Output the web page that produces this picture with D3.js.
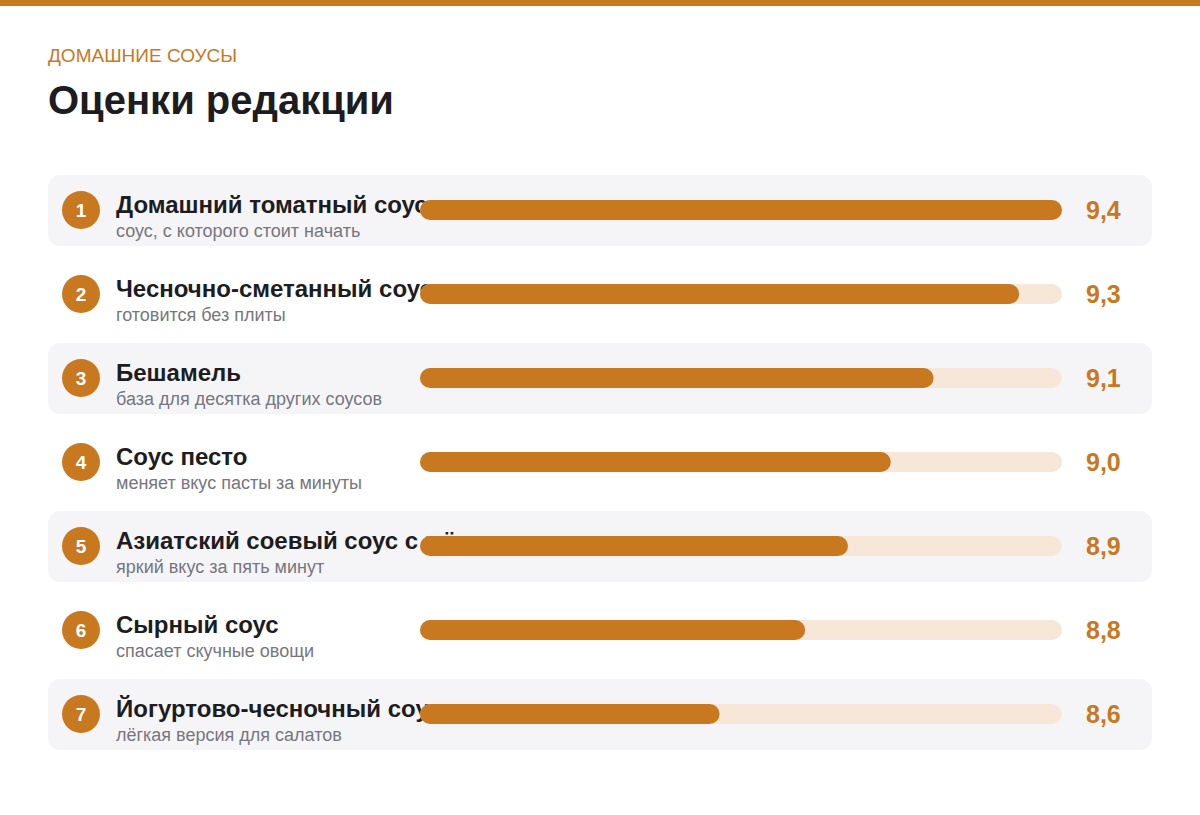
<!DOCTYPE html>
<meta charset="utf-8">
<style>
body { margin: 0; background: #fff; }
svg { display: block; font-family: "Liberation Sans", Arial, sans-serif; }
.kicker { fill: #c8781f; font-size: 19px; }
.title { fill: #1c1c21; font-size: 40px; font-weight: bold; }
.name { fill: #1c1c21; font-size: 24px; font-weight: bold; }
.sub { fill: #76767f; font-size: 18px; }
.val { fill: #c8781f; font-size: 25px; font-weight: bold; }
.num { fill: #fff; font-size: 19px; font-weight: bold; }
</style>
<body>
<script src="https://d3js.org/d3.v7.min.js"></script>
<script>

var width = 1200;
var height = 815;

var names = [
  'Домашний томатный соус',
  'Чесночно-сметанный соус',
  'Бешамель',
  'Соус песто',
  'Азиатский соевый соус с мёдом',
  'Сырный соус',
  'Йогуртово-чесночный соус'
];
var notes = [
  'соус, с которого стоит начать',
  'готовится без плиты',
  'база для десятка других соусов',
  'меняет вкус пасты за минуты',
  'яркий вкус за пять минут',
  'спасает скучные овощи',
  'лёгкая версия для салатов'
];
var scores = [9.4, 9.3, 9.1, 9.0, 8.9, 8.8, 8.6];

var orange = '#c8781f';

var svg = d3.select('body')
  .append('svg')
  .attr('width', width)
  .attr('height', height);

// top stripe
svg.append('rect')
  .attr('x', 0).attr('y', 0)
  .attr('width', width).attr('height', 6)
  .attr('fill', orange);

svg.append('text').attr('class', 'kicker')
  .attr('x', 48).attr('y', 62)
  .text('ДОМАШНИЕ СОУСЫ');

svg.append('text').attr('class', 'title')
  .attr('x', 48).attr('y', 114)
  .text('Оценки редакции');

var rows = d3.range(names.length);

var y = d3.scalePoint()
  .domain(rows)
  .range([210, 714]);

var x = d3.scaleLinear()
  .domain([7.9, 9.4])
  .range([420, 1062]);

var barH = 20;

var row = svg.selectAll('.row')
  .data(rows)
  .enter()
  .append('g')
  .attr('class', 'row')
  .attr('transform', d => 'translate(0,' + y(d) + ')');

// shaded background on every other row
row.filter(d => d % 2 === 0)
  .append('rect')
  .attr('x', 48)
  .attr('y', -35)
  .attr('width', 1104)
  .attr('height', 71)
  .attr('rx', 12)
  .attr('fill', '#f5f5f8');

row.append('circle')
  .attr('cx', 81)
  .attr('cy', 0)
  .attr('r', 19)
  .attr('fill', orange);

row.append('text').attr('class', 'num')
  .attr('x', 81)
  .attr('y', 7)
  .attr('text-anchor', 'middle')
  .text(d => d + 1);

row.append('text').attr('class', 'name')
  .attr('x', 116)
  .attr('y', 3)
  .text(d => names[d]);

row.append('text').attr('class', 'sub')
  .attr('x', 116)
  .attr('y', 27)
  .text(d => notes[d]);

// track
row.append('rect')
  .attr('x', x.range()[0])
  .attr('y', -barH / 2)
  .attr('width', x.range()[1] - x.range()[0])
  .attr('height', barH)
  .attr('rx', barH / 2)
  .attr('fill', '#f6e7d9');

// value bar
row.append('rect')
  .attr('x', x.range()[0])
  .attr('y', -barH / 2)
  .attr('width', d => x(scores[d]) - x.range()[0])
  .attr('height', barH)
  .attr('rx', barH / 2)
  .attr('fill', orange);

row.append('text').attr('class', 'val')
  .attr('x', 1086)
  .attr('y', 9)
  .text(d => d3.format('.1f')(scores[d]).replace('.', ','));

</script>
</body>
</html>
